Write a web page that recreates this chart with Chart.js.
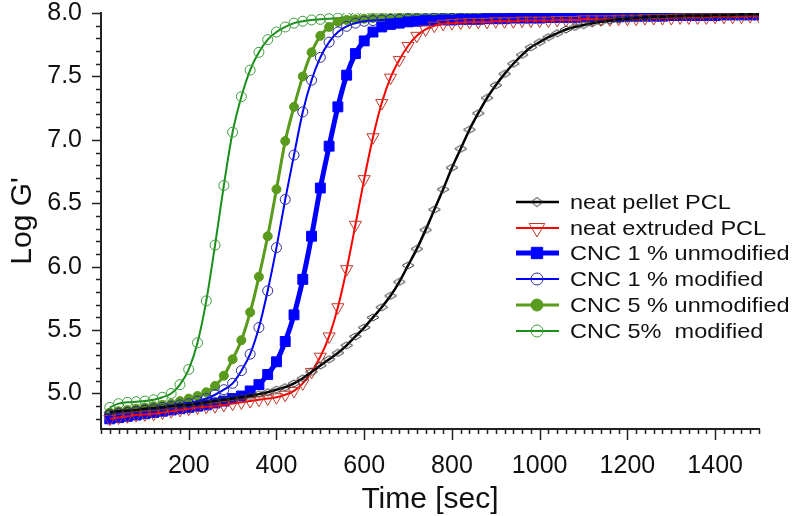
<!DOCTYPE html>
<html>
<head>
<meta charset="utf-8">
<script src="https://cdn.jsdelivr.net/npm/chart.js@4.4.1/dist/chart.umd.min.js"></script>
<style>
  html, body { margin: 0; padding: 0; background: #fff; }
  #wrap { width: 800px; height: 516px; position: relative; }
</style>
</head>
<body>
<div id="wrap"><canvas id="chart" width="800" height="516"></canvas></div>
<script>
// --- data (time in sec, Log G') ---
const times = [20, 40, 60, 80, 100, 120, 140, 160, 180, 200,
  220, 240, 260, 280, 300, 320, 340, 360, 380, 400,
  420, 440, 460, 480, 500, 520, 540, 560, 580, 600,
  620, 640, 660, 680, 700, 720, 740, 760, 780, 800,
  820, 840, 860, 880, 900, 920, 940, 960, 980, 1000,
  1020, 1040, 1060, 1080, 1100, 1120, 1140, 1160, 1180, 1200,
  1220, 1240, 1260, 1280, 1300, 1320, 1340, 1360, 1380, 1400,
  1420, 1440, 1460, 1480, 1500];

const neatPellet = [4.85, 4.86, 4.865, 4.87, 4.88, 4.885, 4.89, 4.90, 4.905, 4.91,
  4.92, 4.93, 4.94, 4.95, 4.96, 4.97, 4.98, 4.995, 5.01, 5.03,
  5.05, 5.08, 5.12, 5.17, 5.22, 5.27, 5.32, 5.38, 5.45, 5.52,
  5.60, 5.68, 5.77, 5.88, 6.01, 6.14, 6.29, 6.45, 6.61, 6.78,
  6.93, 7.08, 7.21, 7.33, 7.43, 7.52, 7.60, 7.67, 7.73, 7.77,
  7.81, 7.84, 7.87, 7.89, 7.905, 7.92, 7.93, 7.94, 7.95, 7.955,
  7.96, 7.965, 7.97, 7.97, 7.975, 7.975, 7.98, 7.98, 7.98, 7.985,
  7.985, 7.985, 7.99, 7.99, 7.99];

const neatExtruded = [4.80, 4.81, 4.82, 4.83, 4.835, 4.84, 4.85, 4.86, 4.87, 4.88,
  4.89, 4.895, 4.90, 4.91, 4.92, 4.93, 4.94, 4.95, 4.96, 4.97,
  4.99, 5.02, 5.08, 5.17, 5.29, 5.45, 5.68, 5.98, 6.33, 6.69,
  7.02, 7.29, 7.49, 7.63, 7.74, 7.82, 7.87, 7.90, 7.915, 7.92,
  7.925, 7.93, 7.93, 7.93, 7.935, 7.935, 7.935, 7.94, 7.94, 7.94,
  7.94, 7.945, 7.945, 7.945, 7.95, 7.95, 7.95, 7.95, 7.955, 7.955,
  7.955, 7.96, 7.96, 7.96, 7.96, 7.965, 7.965, 7.965, 7.965, 7.97,
  7.97, 7.97, 7.97, 7.975, 7.975];

const cnc1Unmod = [4.80, 4.81, 4.82, 4.83, 4.84, 4.85, 4.86, 4.87, 4.88, 4.89,
  4.90, 4.91, 4.925, 4.94, 4.96, 4.98, 5.02, 5.07, 5.15, 5.25,
  5.41, 5.62, 5.90, 6.24, 6.62, 6.95, 7.26, 7.51, 7.68, 7.78,
  7.85, 7.89, 7.91, 7.92, 7.93, 7.935, 7.94, 7.94, 7.945, 7.945,
  7.95, 7.95, 7.95, 7.955, 7.955, 7.955, 7.96, 7.96, 7.96, 7.96,
  7.965, 7.965, 7.965, 7.965, 7.97, 7.97, 7.97, 7.97, 7.97, 7.975,
  7.975, 7.975, 7.975, 7.975, 7.98, 7.98, 7.98, 7.98, 7.98, 7.98,
  7.985, 7.985, 7.985, 7.985, 7.985];

const cnc1Mod = [4.83, 4.84, 4.85, 4.86, 4.87, 4.88, 4.89, 4.90, 4.91, 4.92,
  4.94, 4.96, 4.99, 5.03, 5.08, 5.18, 5.31, 5.52, 5.81, 6.15,
  6.53, 6.88, 7.22, 7.47, 7.65, 7.77, 7.85, 7.895, 7.92, 7.935,
  7.94, 7.945, 7.95, 7.95, 7.955, 7.955, 7.955, 7.96, 7.96, 7.96,
  7.96, 7.965, 7.965, 7.965, 7.965, 7.97, 7.97, 7.97, 7.97, 7.97,
  7.975, 7.975, 7.975, 7.975, 7.975, 7.975, 7.98, 7.98, 7.98, 7.98,
  7.98, 7.98, 7.98, 7.985, 7.985, 7.985, 7.985, 7.985, 7.985, 7.985,
  7.99, 7.99, 7.99, 7.99, 7.99];

const cnc5Unmod = [4.85, 4.86, 4.87, 4.88, 4.89, 4.90, 4.91, 4.92, 4.94, 4.96,
  4.98, 5.01, 5.06, 5.14, 5.27, 5.42, 5.64, 5.92, 6.24, 6.61,
  6.99, 7.26, 7.50, 7.69, 7.82, 7.89, 7.93, 7.945, 7.95, 7.955,
  7.96, 7.96, 7.96, 7.965, 7.965, 7.965, 7.965, 7.97, 7.97, 7.97,
  7.97, 7.97, 7.975, 7.975, 7.975, 7.975, 7.975, 7.975, 7.98, 7.98,
  7.98, 7.98, 7.98, 7.98, 7.98, 7.985, 7.985, 7.985, 7.985, 7.985,
  7.985, 7.985, 7.985, 7.985, 7.99, 7.99, 7.99, 7.99, 7.99, 7.99,
  7.99, 7.99, 7.99, 7.99, 7.99];

const cnc5Mod = [4.89, 4.92, 4.93, 4.935, 4.94, 4.95, 4.97, 5.00, 5.07, 5.19,
  5.40, 5.73, 6.17, 6.64, 7.06, 7.34, 7.55, 7.69, 7.79, 7.85,
  7.89, 7.92, 7.935, 7.945, 7.95, 7.955, 7.96, 7.965, 7.965, 7.97,
  7.97, 7.97, 7.975, 7.975, 7.975, 7.975, 7.98, 7.98, 7.98, 7.98,
  7.98, 7.98, 7.985, 7.985, 7.985, 7.985, 7.985, 7.985, 7.985, 7.99,
  7.99, 7.99, 7.99, 7.99, 7.99, 7.99, 7.99, 7.99, 7.99, 7.99,
  7.99, 7.99, 7.995, 7.995, 7.995, 7.995, 7.995, 7.995, 7.995, 7.995,
  7.995, 7.995, 7.995, 7.995, 7.995];

const seriesLabels = ['neat pellet PCL', 'neat extruded PCL', 'CNC 1 % unmodified',
  'CNC 1 % modified', 'CNC 5 % unmodified', 'CNC 5%  modified'];

const xTickLabels = [200, 400, 600, 800, 1000, 1200, 1400];
const yTickLabels = [5.0, 5.5, 6.0, 6.5, 7.0, 7.5, 8.0];

const FONT = '"Liberation Sans", Arial, sans-serif';

// flat open diamond used by the neat pellet series
function makeDiamond(w, h, color) {
    const c = document.createElement('canvas');
    c.width = w + 2; c.height = h + 2;
    const g = c.getContext('2d');
    g.strokeStyle = color;
    g.lineWidth = 1;
    g.beginPath();
    g.moveTo(1, 1 + h / 2);
    g.lineTo(1 + w / 2, 1);
    g.lineTo(1 + w, 1 + h / 2);
    g.lineTo(1 + w / 2, 1 + h);
    g.closePath();
    g.stroke();
    return c;
}
const diamond = makeDiamond(12, 7, '#333');
const diamondLegend = makeDiamond(12, 9, '#333');

function pts(arr) {
    return times.map((t, i) => ({ x: t, y: arr[i] }));
}

const styles = [
    { data: neatPellet, line: '#000000', lw: 2.5, ps: diamond, lps: diamondLegend, r: 6, lr: 6, fill: 'rgba(0,0,0,0)', stroke: '#333', bw: 1, rot: 0 },
    { data: neatExtruded, line: '#ff0000', lw: 2, ps: 'triangle', lps: 'triangle', r: 7, lr: 9, fill: 'rgba(0,0,0,0)', stroke: '#c0392b', bw: 1, rot: 180 },
    { data: cnc1Unmod, line: '#0000ff', lw: 5, ps: 'rect', lps: 'rect', r: 7, lr: 8, fill: '#0000ff', stroke: '#0000ff', bw: 1, rot: 0 },
    { data: cnc1Mod, line: '#0000ff', lw: 2, ps: 'circle', lps: 'circle', r: 5, lr: 6, fill: 'rgba(0,0,0,0)', stroke: '#2b2b9a', bw: 1, rot: 0 },
    { data: cnc5Unmod, line: '#5a9a1c', lw: 3, ps: 'circle', lps: 'circle', r: 4.5, lr: 6, fill: '#5a9a1c', stroke: '#5a9a1c', bw: 1, rot: 0 },
    { data: cnc5Mod, line: '#1a8f1a', lw: 2, ps: 'circle', lps: 'circle', r: 5, lr: 6, fill: 'rgba(0,0,0,0)', stroke: '#3d9a3d', bw: 1, rot: 0 }
];

const datasets = styles.map((s, i) => ({
    label: seriesLabels[i],
    data: pts(s.data),
    borderColor: s.line,
    borderWidth: s.lw,
    pointStyle: s.ps,
    pointRadius: s.r,
    pointRotation: s.rot,
    pointBackgroundColor: s.fill,
    pointBorderColor: s.stroke,
    pointBorderWidth: s.bw,
    cubicInterpolationMode: 'monotone',
    fill: false
}));

// tick marks (minor + major) and the legend inside the plot
const decorPlugin = {
    id: 'decor',
    afterDraw(chart) {
        const ctx = chart.ctx;
        const xs = chart.scales.x, ys = chart.scales.y;
        const area = chart.chartArea;
        ctx.save();
        ctx.strokeStyle = '#222';
        ctx.lineWidth = 1.5;
        // x ticks every 20 s, long at labelled values
        for (let v = 0; v <= 1500; v += 20) {
            const px = Math.round(xs.getPixelForValue(v)) + 0.5;
            const len = xTickLabels.includes(v) ? 11 : 5;
            ctx.beginPath();
            ctx.moveTo(px, area.bottom);
            ctx.lineTo(px, area.bottom + len);
            ctx.stroke();
        }
        // y ticks every 0.1
        for (let k = 48; k <= 80; k++) {
            const v = k / 10;
            const py = Math.round(ys.getPixelForValue(v)) + 0.5;
            const len = (k % 5 === 0) ? 9 : 5;
            ctx.beginPath();
            ctx.moveTo(area.left, py);
            ctx.lineTo(area.left - len, py);
            ctx.stroke();
        }
        ctx.restore();

        // legend
        const rowY = [202, 228, 253, 279, 305, 331];
        ctx.save();
        styles.forEach((s, i) => {
            const y = rowY[i];
            ctx.strokeStyle = s.line;
            ctx.lineWidth = s.lw;
            ctx.beginPath();
            ctx.moveTo(516, y);
            ctx.lineTo(559, y);
            ctx.stroke();
            ctx.fillStyle = s.fill;
            ctx.strokeStyle = s.stroke;
            ctx.lineWidth = s.bw;
            Chart.helpers.drawPoint(ctx, { pointStyle: s.lps, radius: s.lr, rotation: s.rot, borderWidth: s.bw }, 537, y);
            ctx.save();
            ctx.translate(570, y);
            ctx.scale(1.12, 1);
            ctx.fillStyle = '#111';
            ctx.font = '21px ' + FONT;
            ctx.textBaseline = 'middle';
            ctx.fillText(seriesLabels[i], 0, 1);
            ctx.restore();
        });
        ctx.restore();
    }
};

new Chart(document.getElementById('chart'), {
    type: 'line',
    data: { datasets: datasets },
    options: {
        responsive: false,
        animation: false,
        devicePixelRatio: 1,
        layout: { padding: { top: 13, right: 41, left: 0, bottom: 0 } },
        plugins: {
            legend: { display: false },
            tooltip: { enabled: false }
        },
        scales: {
            x: {
                type: 'linear',
                min: 0,
                max: 1500,
                afterBuildTicks: (s) => { s.ticks = xTickLabels.map(v => ({ value: v })); },
                afterFit: (s) => { s.height = 87; s.paddingLeft = 0; s.paddingRight = 0; },
                grid: { display: false },
                border: { display: true, color: '#222', width: 2 },
                ticks: { font: { family: FONT, size: 25 }, color: '#111', padding: 14, maxRotation: 0, autoSkip: false, callback: (v) => String(v) },
                title: { display: true, text: 'Time [sec]', color: '#111', font: { family: FONT, size: 30, lineHeight: 1 }, padding: { top: 0, bottom: 1 } }
            },
            y: {
                type: 'linear',
                min: 4.72,
                max: 8.0,
                afterBuildTicks: (s) => { s.ticks = yTickLabels.map(v => ({ value: v })); },
                afterFit: (s) => { s.width = 101; s.paddingTop = 0; s.paddingBottom = 0; },
                grid: { display: false },
                border: { display: true, color: '#222', width: 2 },
                ticks: { font: { family: FONT, size: 25 }, color: '#111', padding: 11, callback: (v) => Number(v).toFixed(1) },
                title: { display: true, text: "Log G'", color: '#111', font: { family: FONT, size: 30, lineHeight: 1 }, padding: { top: 8, bottom: 0 } }
            }
        }
    },
    plugins: [decorPlugin]
});
</script>
</body>
</html>
